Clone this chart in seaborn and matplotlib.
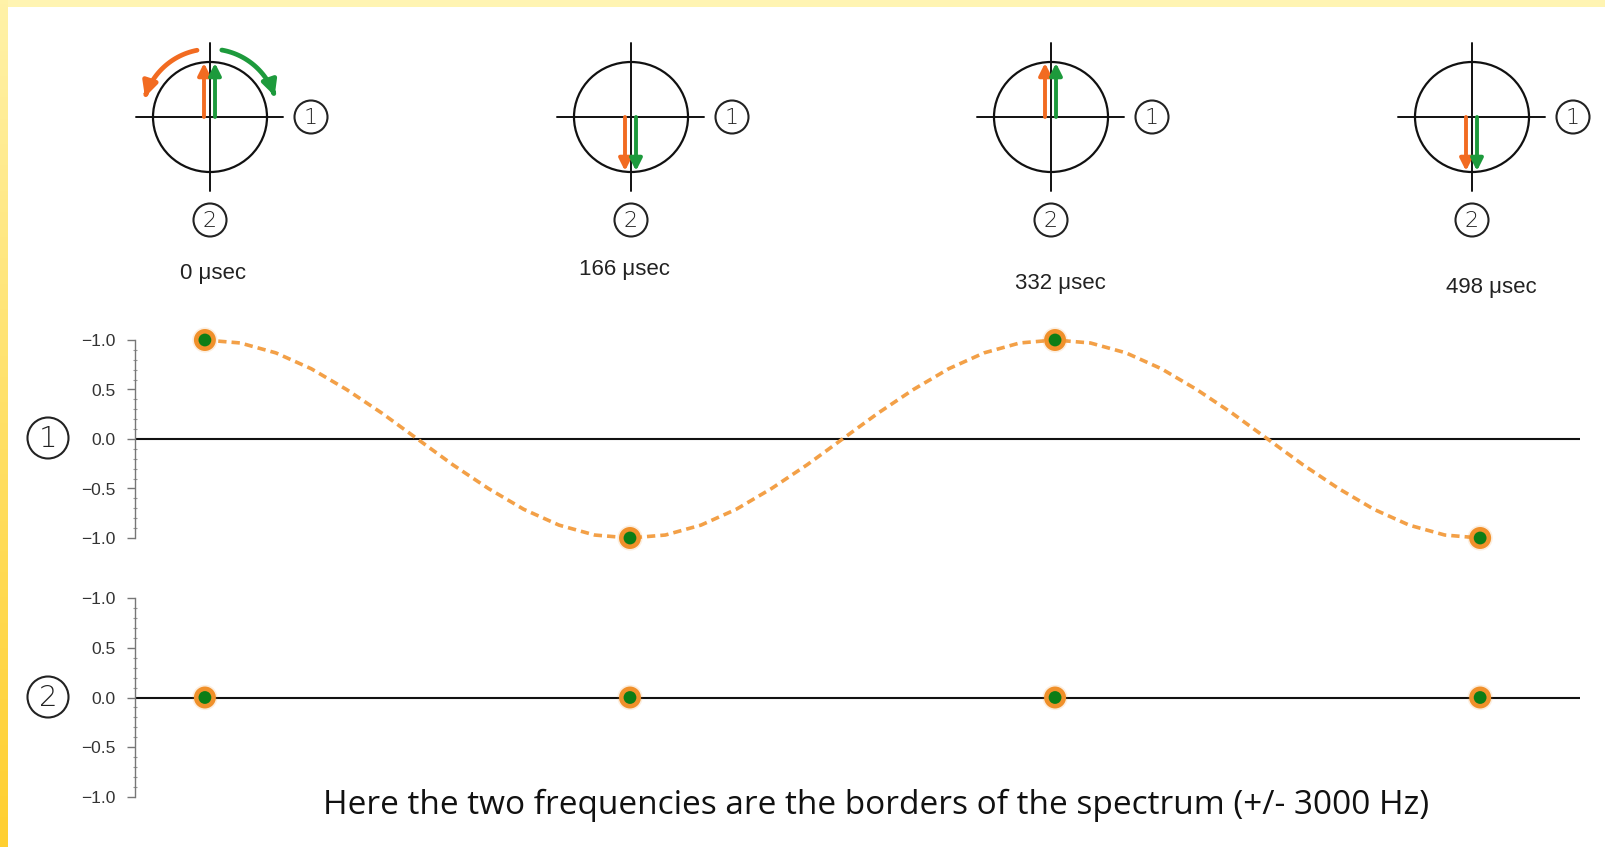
import numpy as np
import pandas as pd
import matplotlib
matplotlib.use("Agg")
import matplotlib.pyplot as plt
import seaborn as sns
from matplotlib.patches import Circle, Ellipse, FancyArrowPatch
from matplotlib.path import Path
from matplotlib.ticker import MultipleLocator, FixedLocator

# datos
point_times = [0, 166, 332, 498]
canal1_vals = [1.0, -1.0, 1.0, -1.0]
canal2_vals = [0.0, 0.0, 0.0, 0.0]
time_labels = ["0 \u03bcsec", "166 \u03bcsec", "332 \u03bcsec", "498 \u03bcsec"]

curve_t = [0, 13.8, 27.7, 41.5, 55.3, 69.2, 83, 96.8, 110.7, 124.5, 138.3, 152.2,
           166, 179.8, 193.7, 207.5, 221.3, 235.2, 249, 262.8, 276.7, 290.5, 304.3, 318.2,
           332, 345.8, 359.7, 373.5, 387.3, 401.2, 415, 428.8, 442.7, 456.5, 470.3, 484.2, 498]
curve_v = [1.00, 0.97, 0.87, 0.71, 0.50, 0.26, 0.00, -0.26, -0.50, -0.71, -0.87, -0.97,
           -1.00, -0.97, -0.87, -0.71, -0.50, -0.26, 0.00, 0.26, 0.50, 0.71, 0.87, 0.97,
           1.00, 0.97, 0.87, 0.71, 0.50, 0.26, 0.00, -0.26, -0.50, -0.71, -0.87, -0.97, -1.00]

ytick_vals = [1.0, 0.5, 0.0, -0.5, -1.0]
ytick_labels = ["\u22121.0", "0.5", "0.0", "\u22120.5", "\u22121.0"]

W, H = 1606, 847
NARANJA = "#f0902a"
NARANJA_L = "#f3a047"
VERDE = "#0b7d16"
FLECHA_N = "#f26b21"
FLECHA_V = "#1d9a3c"

sns.set_style("white")
plt.rcParams['font.family'] = ['Liberation Sans', 'DejaVu Sans']

fig = plt.figure(figsize=(W / 100, H / 100), dpi=100, facecolor="white")


def px_axes(left, top, right, bottom):
    return fig.add_axes([left / W, 1 - bottom / H, (right - left) / W, (bottom - top) / H])


# capa de fondo y diagramas
ax0 = px_axes(0, 0, W, H)
ax0.set_xlim(0, W)
ax0.set_ylim(H, 0)
ax0.axis("off")
ax0.add_patch(plt.Rectangle((0, 0), W, 7, color="#fff4b2", lw=0))
grad = np.linspace(0, 1, 200).reshape(-1, 1)
cmap = matplotlib.colors.LinearSegmentedColormap.from_list("yel", ["#fff2a8", "#ffe066", "#ffcf30"])
ax0.imshow(grad, cmap=cmap, extent=[0, 8, H, 0], aspect="auto", zorder=1)


def num_circle(ax, x, y, r, txt, fs):
    ax.add_patch(Circle((x, y), r, fill=False, ec="#222222", lw=1.5))
    ax.text(x, y + 1, txt, ha="center", va="center", fontsize=fs, color="#222222",
            fontfamily="DejaVu Sans", fontweight="light")


centros = [210, 631, 1051, 1472]
texto_pos = [(213, 273), (625, 269), (1060, 283), (1491, 287)]
cy = 117
for i, cx in enumerate(centros):
    ax0.add_patch(Ellipse((cx, cy), 114, 110, fill=False, ec="#111111", lw=1.6))
    ax0.plot([cx - 74, cx + 73], [cy, cy], color="#111111", lw=1.4)
    ax0.plot([cx, cx], [cy - 74, cy + 74], color="#111111", lw=1.4)
    num_circle(ax0, cx + 101, cy, 16.5, "1", 16)
    num_circle(ax0, cx, cy + 103, 16.5, "2", 16)
    ax0.text(texto_pos[i][0], texto_pos[i][1], time_labels[i], ha="center", va="center",
             fontsize=16, color="#222222")
    largo = canal1_vals[i] * 54
    for dx, col in [(-6, FLECHA_N), (5, FLECHA_V)]:
        ax0.annotate("", xy=(cx + dx, cy - largo), xytext=(cx + dx, cy),
                     arrowprops=dict(arrowstyle="-|>", color=col, lw=2.8,
                                     mutation_scale=18, shrinkA=0, shrinkB=0))

# flechas de rotación
R = 68
for a0, a1, col in [(101, 163, FLECHA_N), (80, 18, FLECHA_V)]:
    ang = np.radians(np.linspace(a0, a1, 30))
    verts = np.column_stack([centros[0] + R * np.cos(ang), cy - R * np.sin(ang)])
    ax0.add_patch(FancyArrowPatch(path=Path(verts), arrowstyle="-|>", color=col, lw=3.4,
                                  mutation_scale=22))


def panel(ax, yvals, curva):
    ax.set_xlim(-27.3, 537)
    ax.set_ylim(-1, 1)
    ax.axhline(0, color="#111111", lw=1.5, zorder=1)
    if curva:
        df = pd.DataFrame({"t": curve_t, "v": curve_v})
        sns.lineplot(data=df, x="t", y="v", ax=ax, color=NARANJA_L, lw=2.6, sort=False)
        ln = ax.lines[-1]
        ln.set_dashes([2.3, 1.4])
        ln.set_clip_on(False)
    sns.scatterplot(x=point_times, y=yvals, ax=ax, s=330, color=NARANJA, alpha=0.15,
                    edgecolor="none", clip_on=False, zorder=3)
    sns.scatterplot(x=point_times, y=yvals, ax=ax, s=250, color=NARANJA,
                    edgecolor="none", clip_on=False, zorder=4)
    sns.scatterplot(x=point_times, y=yvals, ax=ax, s=85, color=VERDE,
                    edgecolor="none", clip_on=False, zorder=5)
    for s in ["top", "right", "bottom"]:
        ax.spines[s].set_visible(False)
    ax.spines["left"].set_color("#777777")
    ax.spines["left"].set_linewidth(1.0)
    ax.set_xticks([])
    ax.yaxis.set_major_locator(FixedLocator(ytick_vals))
    ax.set_yticklabels(ytick_labels)
    ax.yaxis.set_minor_locator(MultipleLocator(0.1))
    ax.tick_params(axis="y", which="major", length=6, width=1, color="#777777",
                   labelsize=12.5, labelcolor="#333333", pad=8, left=True)
    ax.tick_params(axis="y", which="minor", length=3, width=0.8, color="#999999",
                   direction="inout", left=True)
    ax.set_xlabel("")
    ax.set_ylabel("")
    ax.patch.set_visible(False)


ax1 = px_axes(135, 340, 1580, 538)
panel(ax1, canal1_vals, True)
ax2 = px_axes(135, 598, 1580, 797)
panel(ax2, canal2_vals, False)

num_circle(ax0, 48, 438, 20.5, "1", 21)
num_circle(ax0, 48, 697, 20.5, "2", 21)

ax0.text(876, 805, "Here the two frequencies are the borders of the spectrum (+/- 3000 Hz)",
         ha="center", va="center", fontsize=24, color="#111111", fontfamily="Open Sans")

fig.savefig("out.png", dpi=100, facecolor="white")
